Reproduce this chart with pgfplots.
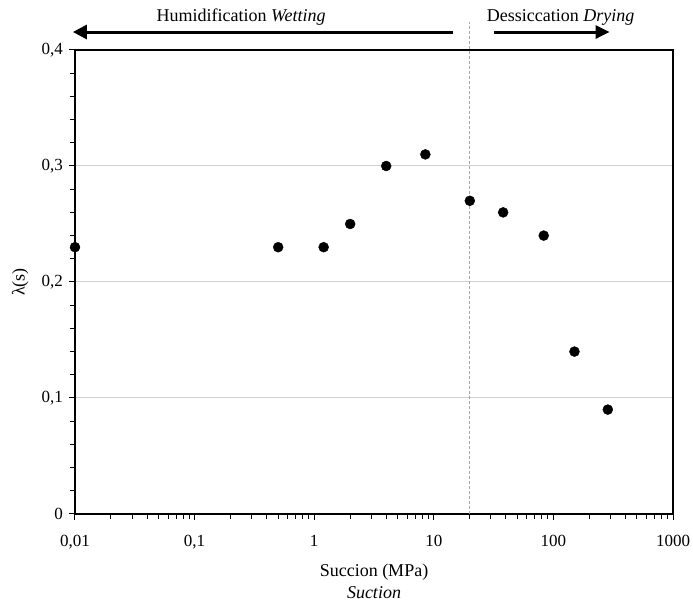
\documentclass[border=0pt]{standalone}
\usepackage{fontspec}
\setmainfont{Liberation Serif}
\usepackage{pgfplots}
\pgfplotsset{compat=1.18}
\usetikzlibrary{arrows.meta}
\begin{document}
\fontsize{18}{22}\selectfont
\begin{tikzpicture}
\begin{axis}[
 scale only axis, width=598pt, height=464pt,
 xmode=log, xmin=0.01, xmax=1000, ymin=0, ymax=0.4,
 xtick={0.01,0.1,1,10,100,1000},
 xticklabels={{0,01},{0,1},1,10,100,1000},
 minor xtick={0.02,0.03,0.04,0.05,0.06,0.07,0.08,0.09,0.2,0.3,0.4,0.5,0.6,0.7,0.8,0.9,2,3,4,5,6,7,8,9,20,30,40,50,60,70,80,90,200,300,400,500,600,700,800,900},
 ytick={0,0.1,0.2,0.3,0.4}, yticklabels={0,{0,1},{0,2},{0,3},{0,4}},
 minor ytick={0.02,0.04,0.06,0.08,0.12,0.14,0.16,0.18,0.22,0.24,0.26,0.28,0.32,0.34,0.36,0.38},
 tick align=outside, tick pos=left,
 major tick length=6pt, minor tick length=5pt,
 ymajorgrids, major grid style={black!18, line width=1pt},
 axis line style={line width=1.3pt},
 every tick/.style={black, line width=1pt},
 clip=false,
 xlabel={Succion (MPa)\\\textit{Suction}},
 xlabel style={align=center, yshift=-3pt},
 xticklabel style={yshift=-9pt},
 ylabel={λ(s)},
 ylabel style={yshift=1pt},
 tick label style={font=\fontsize{17}{20}\selectfont},
 label style={font=\fontsize{18}{22}\selectfont},
]
\draw[black!35, densely dashed, line width=1.3pt] (axis cs:20,0) -- (axis cs:20,0.424);
\addplot[only marks, mark=*, mark size=5pt, black] coordinates {
(0.01,0.23) (0.5,0.23) (1.2,0.23) (2,0.25) (4,0.30) (8.5,0.31)
(20,0.27) (38,0.26) (83,0.24) (150,0.14) (285,0.09)
};
\draw[line width=3pt, -{Triangle[length=14pt,width=14pt]}] (axis cs:14.4,0.4155) -- (axis cs:0.0096,0.4155);
\draw[line width=3pt, -{Triangle[length=14pt,width=13pt]}] (axis cs:32,0.4155) -- (axis cs:295,0.4155);
\node[anchor=base] at (axis cs:0.245,0.4245) {Humidification \textit{Wetting}};
\node[anchor=base] at (axis cs:115,0.4245) {Dessiccation \textit{Drying}};
\end{axis}
\pgfresetboundingbox
\path[use as bounding box] ([xshift=-75pt,yshift=-89pt]current axis.south west) rectangle ([xshift=20pt,yshift=50pt]current axis.north east);
\end{tikzpicture}
\end{document}
